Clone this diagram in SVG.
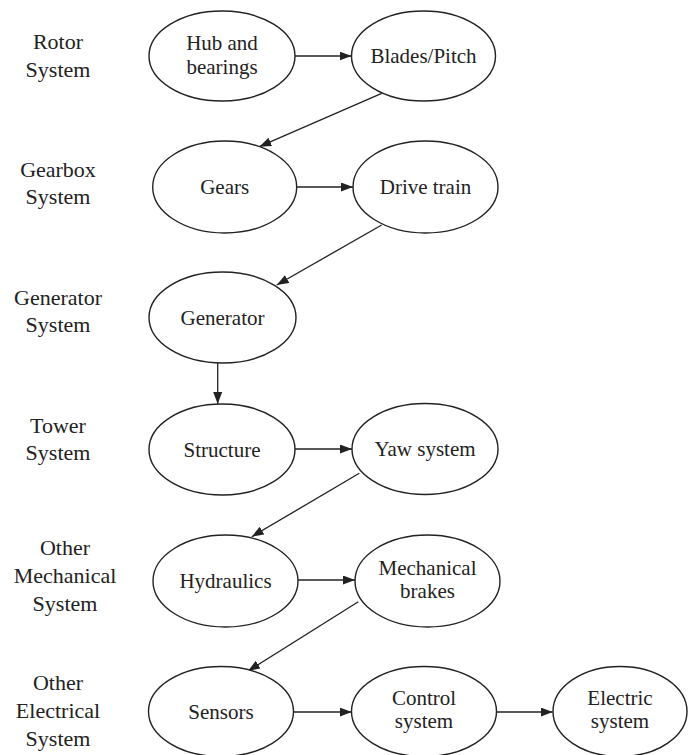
<svg xmlns="http://www.w3.org/2000/svg" width="688" height="755" viewBox="0 0 688 755">
  <style>
    .node ellipse { fill: #ffffff; stroke: #222222; stroke-width: 1.4; }
    .node text, .label text { font-family: "Liberation Serif", "Times New Roman", serif; fill: #222222; text-anchor: middle; }
    .node text { font-size: 21px; }
    .label text { font-size: 22px; }
    .edges line { stroke: #222222; stroke-width: 1.3; marker-end: url(#arrow); }
  </style>
  <defs>
    <marker id="arrow" viewBox="0 0 12 9" refX="12" refY="4.5" markerWidth="12" markerHeight="9" markerUnits="userSpaceOnUse" orient="auto">
      <path d="M0,0 L12,4.5 L0,9 Z" fill="#222222"/>
    </marker>
  </defs>
  <rect width="688" height="755" fill="#ffffff"/>

  <!-- subsystem labels -->
  <g id="labels" class="label">
    <text x="58" y="49">Rotor</text>
    <text x="58" y="77">System</text>
    <text x="58" y="177">Gearbox</text>
    <text x="58" y="204">System</text>
    <text x="58" y="305">Generator</text>
    <text x="58" y="332">System</text>
    <text x="58" y="433">Tower</text>
    <text x="58" y="460">System</text>
    <text x="65" y="555">Other</text>
    <text x="65" y="583">Mechanical</text>
    <text x="65" y="611">System</text>
    <text x="58" y="690">Other</text>
    <text x="58" y="718">Electrical</text>
    <text x="58" y="746">System</text>
  </g>

  <!-- connectors -->
  <g id="edges" class="edges">
    <line x1="295" y1="56" x2="351.5" y2="56"/>
    <line x1="381.7" y1="93.3" x2="259.3" y2="146.7"/>
    <line x1="296.7" y1="187" x2="353" y2="187"/>
    <line x1="381.7" y1="225" x2="276.7" y2="285"/>
    <line x1="217.7" y1="363" x2="217.7" y2="404"/>
    <line x1="295" y1="449" x2="352" y2="449"/>
    <line x1="359.3" y1="473.3" x2="251.7" y2="536.7"/>
    <line x1="298" y1="580" x2="355" y2="580"/>
    <line x1="358.3" y1="601.7" x2="248" y2="671"/>
    <line x1="293.7" y1="712" x2="351.7" y2="712"/>
    <line x1="496.7" y1="712" x2="552.7" y2="712"/>
  </g>

  <!-- nodes -->
  <g id="hub" class="node">
    <ellipse cx="222" cy="56" rx="73" ry="45"/>
    <text x="222" y="50">Hub and</text>
    <text x="222" y="73.5">bearings</text>
  </g>
  <g id="blades" class="node">
    <ellipse cx="423.5" cy="56" rx="72" ry="45"/>
    <text x="423.5" y="63">Blades/Pitch</text>
  </g>
  <g id="gears" class="node">
    <ellipse cx="224.7" cy="187" rx="72" ry="46"/>
    <text x="224.7" y="194">Gears</text>
  </g>
  <g id="drive_train" class="node">
    <ellipse cx="425.5" cy="187" rx="72.5" ry="46"/>
    <text x="425.5" y="194">Drive train</text>
  </g>
  <g id="generator" class="node">
    <ellipse cx="222.5" cy="317.5" rx="73.5" ry="45.5"/>
    <text x="222.5" y="324.5">Generator</text>
  </g>
  <g id="structure" class="node">
    <ellipse cx="222" cy="449.5" rx="73" ry="45.5"/>
    <text x="222" y="456.5">Structure</text>
  </g>
  <g id="yaw" class="node">
    <ellipse cx="425" cy="449" rx="73" ry="45.5"/>
    <text x="425" y="456">Yaw system</text>
  </g>
  <g id="hydraulics" class="node">
    <ellipse cx="225.5" cy="581" rx="72.5" ry="46"/>
    <text x="225.5" y="587.5">Hydraulics</text>
  </g>
  <g id="mech_brakes" class="node">
    <ellipse cx="427.5" cy="581" rx="72.5" ry="46"/>
    <text x="427.5" y="574.5">Mechanical</text>
    <text x="427.5" y="598">brakes</text>
  </g>
  <g id="sensors" class="node">
    <ellipse cx="221" cy="711.5" rx="72.5" ry="45"/>
    <text x="221" y="718.5">Sensors</text>
  </g>
  <g id="control" class="node">
    <ellipse cx="424" cy="711.5" rx="72.5" ry="45"/>
    <text x="424" y="704.5">Control</text>
    <text x="424" y="728">system</text>
  </g>
  <g id="electric" class="node">
    <ellipse cx="620" cy="711.5" rx="67" ry="45"/>
    <text x="620" y="704.5">Electric</text>
    <text x="620" y="728">system</text>
  </g>
</svg>
